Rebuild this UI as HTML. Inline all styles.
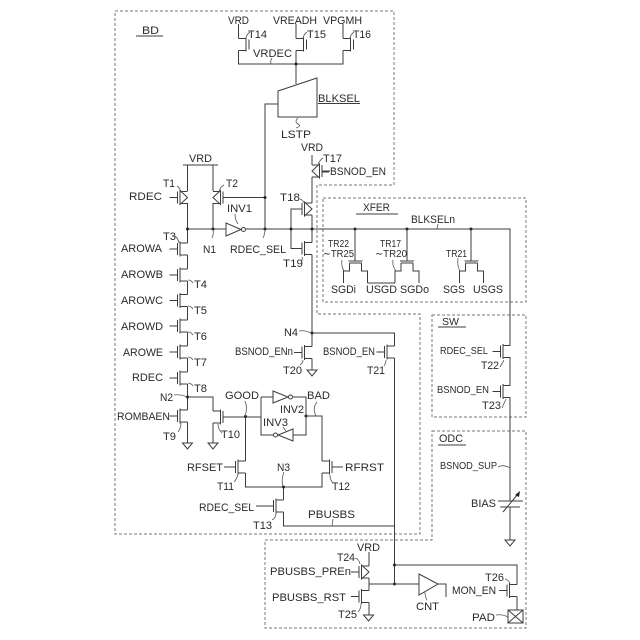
<!DOCTYPE html>
<html><head><meta charset="utf-8"><style>
html,body{margin:0;padding:0;background:#fff}
svg{display:block}
text{font-family:"Liberation Sans",sans-serif;font-size:11px;fill:#2a2a2a}
.w{fill:none;stroke:#3c3c3c;stroke-width:1}
.d{fill:none;stroke:#777;stroke-width:1;stroke-dasharray:3 2}
.l{fill:none;stroke:#555;stroke-width:.8}
.dot{fill:#222}
</style></head><body>
<svg width="640" height="640" viewBox="0 0 640 640" xmlns="http://www.w3.org/2000/svg">
<defs>
<g id="n" class="w"><path d="M-8,0H0M0,-6V6M2.5,-7.5V7.5M2.5,-6H10M2.5,6H10"/></g>
<g id="p" class="w"><path d="M-8,0H0M0,-6V6M2.5,-6H10M2.5,6H10"/><path d="M2.5,-7V7L10,0Z" fill="#fff"/></g>
<g id="t" class="w"><path d="M7.5,-7V7M10.5,-5V5M7.5,-6H0M7.5,6H0"/></g>
<g id="g" class="w"><path d="M-5,0H5L0,6Z"/></g>
<g id="x" class="w"><path d="M-6,2H6M-7,0H7M-6,2V10H-12V22M6,2V10H12V22"/></g>
</defs>
<rect width="640" height="640" fill="#fff"/>

<!-- dashed boxes -->
<path class="d" d="M115,11H394V185H317V314H420V534H115Z"/>
<path class="d" d="M323,198H526V302H323Z"/>
<path class="d" d="M432,315H526V417H432Z"/>
<path class="d" d="M432,431H526V628H265V540H432Z"/>

<!-- top supply transistors -->
<path class="w" d="M238.5,24V38.5M296,24V38.5M343,24V38.5M238.5,50.5V64H343V50.5M296,50.5V84"/>
<use href="#t" x="238.5" y="44.5"/><use href="#t" x="296" y="44.5"/><use href="#t" x="343" y="44.5"/>
<circle class="dot" cx="296" cy="64" r="1.5"/>
<path class="w" d="M278,91L317,78V117H278ZM278,104H265V229"/>
<path class="l" d="M246,38Q247,34 250,32M303,38Q304,34 307,32M350,38Q351,34 354,32M272,58Q270,61 271,64M298,118Q294,122 298,124T296,128"/>
<text x="228" y="24" textLength="21" lengthAdjust="spacingAndGlyphs">VRD</text>
<text x="273" y="24" textLength="44" lengthAdjust="spacingAndGlyphs">VREADH</text>
<text x="323" y="24" textLength="39" lengthAdjust="spacingAndGlyphs">VPGMH</text>
<text x="248" y="38" textLength="19" lengthAdjust="spacingAndGlyphs">T14</text>
<text x="307" y="38" textLength="19" lengthAdjust="spacingAndGlyphs">T15</text>
<text x="353" y="38" textLength="18" lengthAdjust="spacingAndGlyphs">T16</text>
<text x="253" y="57" textLength="39" lengthAdjust="spacingAndGlyphs">VRDEC</text>
<text x="318" y="102" textLength="42" lengthAdjust="spacingAndGlyphs">BLKSEL</text>
<path class="w" d="M318,103.5H360"/>
<text x="281" y="138" textLength="30" lengthAdjust="spacingAndGlyphs">LSTP</text>
<text x="142" y="34" textLength="17" lengthAdjust="spacingAndGlyphs">BD</text>
<path class="w" d="M136,36H163"/>

<!-- T17 / T18 / T19 -->
<path class="w" d="M312,155V165M312,177V203M312,215V242.5M312,254.5V346.5M312,358.5V370"/>
<use href="#p" transform="translate(322,171) scale(-1,1)"/>
<path class="w" d="M322,172H329"/>
<text x="301" y="151" textLength="22" lengthAdjust="spacingAndGlyphs">VRD</text>
<text x="323" y="162" textLength="19" lengthAdjust="spacingAndGlyphs">T17</text>
<path class="l" d="M318,164Q320,160 323,158"/>
<text x="330" y="175" textLength="56" lengthAdjust="spacingAndGlyphs">BSNOD_EN</text>
<use href="#p" x="302" y="209"/>
<use href="#n" x="302" y="248.5"/>
<path class="w" d="M302,209H291V248.5H302"/>
<text x="280" y="201" textLength="20" lengthAdjust="spacingAndGlyphs">T18</text>
<path class="l" d="M300,199Q303,200 304,203"/>
<text x="283" y="267" textLength="20" lengthAdjust="spacingAndGlyphs">T19</text>
<path class="l" d="M302,257Q303,260 301,262"/>

<!-- T1, T2, VRD -->
<path class="w" d="M183,165H218M187.5,165V191M187.5,203V243M213,165V191M213,203V229"/>
<use href="#p" x="177.5" y="197.5"/>
<use href="#p" transform="translate(223,197.5) scale(-1,1)"/>
<path class="w" d="M223,197.5H265"/>
<text x="189" y="162" textLength="23" lengthAdjust="spacingAndGlyphs">VRD</text>
<text x="163" y="187" textLength="12" lengthAdjust="spacingAndGlyphs">T1</text>
<text x="226" y="187" textLength="12" lengthAdjust="spacingAndGlyphs">T2</text>
<path class="l" d="M177,186Q180,188 181,192M224,185Q220,187 219,192"/>
<text x="129" y="200" textLength="33" lengthAdjust="spacingAndGlyphs">RDEC</text>

<!-- main horizontal -->
<path class="w" d="M187.5,229H226M246,229H510V345.5M510,357.5V385.5M510,397.5V501M510,507V540"/>
<path class="w" d="M226,223V236L241,229.5Z"/>
<circle class="w" cx="243.5" cy="229.5" r="2"/>
<g class="dot"><circle cx="187.5" cy="229" r="1.5"/><circle cx="213" cy="229" r="1.5"/><circle cx="265" cy="229" r="1.5"/><circle cx="265" cy="197.5" r="1.5"/><circle cx="291" cy="229" r="1.5"/><circle cx="312" cy="229" r="1.5"/><circle cx="355" cy="229" r="1.5"/><circle cx="407" cy="229" r="1.5"/><circle cx="471" cy="229" r="1.5"/></g>
<path class="l" d="M213,229Q214,234 212,238M265,229Q265,234 263,238M235,214Q235,220 238,224M438,224L437,229"/>
<text x="227" y="212" textLength="25" lengthAdjust="spacingAndGlyphs">INV1</text>
<text x="203" y="253" textLength="13" lengthAdjust="spacingAndGlyphs">N1</text>
<text x="230" y="253" textLength="56" lengthAdjust="spacingAndGlyphs">RDEC_SEL</text>
<text x="411" y="223" textLength="44" lengthAdjust="spacingAndGlyphs">BLKSELn</text>

<!-- T3 - T8 stack -->
<path class="w" d="M187.5,255V269M187.5,281V294.5M187.5,306.5V320M187.5,332V346M187.5,358V372M187.5,384V410"/>
<use href="#n" x="177.5" y="249"/><use href="#n" x="177.5" y="275"/><use href="#n" x="177.5" y="300.5"/><use href="#n" x="177.5" y="326"/><use href="#n" x="177.5" y="352"/><use href="#n" x="177.5" y="378"/>
<text x="163" y="240" textLength="13" lengthAdjust="spacingAndGlyphs">T3</text>
<path class="l" d="M175,236Q178,238 179,243"/>
<text x="121" y="252" textLength="41" lengthAdjust="spacingAndGlyphs">AROWA</text>
<text x="121" y="278" textLength="42" lengthAdjust="spacingAndGlyphs">AROWB</text>
<text x="121" y="304" textLength="42" lengthAdjust="spacingAndGlyphs">AROWC</text>
<text x="121" y="330" textLength="42" lengthAdjust="spacingAndGlyphs">AROWD</text>
<text x="123" y="356" textLength="40" lengthAdjust="spacingAndGlyphs">AROWE</text>
<text x="132" y="381" textLength="31" lengthAdjust="spacingAndGlyphs">RDEC</text>
<text x="194" y="288" textLength="13" lengthAdjust="spacingAndGlyphs">T4</text>
<text x="194" y="314" textLength="13" lengthAdjust="spacingAndGlyphs">T5</text>
<text x="194" y="340" textLength="13" lengthAdjust="spacingAndGlyphs">T6</text>
<text x="194" y="366" textLength="13" lengthAdjust="spacingAndGlyphs">T7</text>
<text x="194" y="392" textLength="13" lengthAdjust="spacingAndGlyphs">T8</text>
<path class="l" d="M188,280Q191,280 193,283M188,306Q191,306 193,309M188,332Q191,332 193,335M188,357Q191,357 193,360M188,383Q191,383 193,386"/>

<!-- N2, T9, T10 -->
<circle class="dot" cx="187.5" cy="397" r="1.5"/>
<path class="w" d="M187.5,397H213V411M213,423V443M187.5,422V443"/>
<text x="160" y="401" textLength="13" lengthAdjust="spacingAndGlyphs">N2</text>
<path class="l" d="M174,395Q180,394 187,397"/>
<use href="#n" x="177.5" y="416"/>
<text x="117" y="420" textLength="53" lengthAdjust="spacingAndGlyphs">ROMBAEN</text>
<text x="163" y="440" textLength="13" lengthAdjust="spacingAndGlyphs">T9</text>
<path class="l" d="M181,423Q181,428 178,432"/>
<use href="#g" x="187.5" y="443"/><use href="#g" x="213" y="443"/>
<use href="#n" transform="translate(223,417) scale(-1,1)"/>
<path class="w" d="M223,417H261"/>
<text x="221" y="438" textLength="19" lengthAdjust="spacingAndGlyphs">T10</text>
<path class="l" d="M218,424Q218,429 222,433"/>

<!-- latch -->
<circle class="dot" cx="245.5" cy="416.5" r="1.5"/><circle class="dot" cx="306" cy="416" r="1.5"/>
<path class="w" d="M261,397V435H274M261,397H273M293,397H306V435H293M306,416H322V461M245.5,417V461"/>
<path class="w" d="M273,391V403L288,397Z"/><circle class="w" cx="290.5" cy="397" r="2"/>
<path class="w" d="M293,429V441L278,435Z"/><circle class="w" cx="275.5" cy="435" r="2"/>
<path class="l" d="M245,401Q248,408 245,416M317,402Q312,408 316,416M283,427L286,431"/>
<text x="225" y="399" textLength="34" lengthAdjust="spacingAndGlyphs">GOOD</text>
<text x="307" y="399" textLength="23" lengthAdjust="spacingAndGlyphs">BAD</text>
<text x="280" y="413" textLength="24" lengthAdjust="spacingAndGlyphs">INV2</text>
<text x="263" y="426" textLength="25" lengthAdjust="spacingAndGlyphs">INV3</text>

<!-- T11 T12 T13 -->
<use href="#n" x="235.5" y="467"/>
<use href="#n" transform="translate(332,467) scale(-1,1)"/>
<path class="w" d="M224,467H236M332,467H343M245.5,473V487H322V473M283.5,487V500M283.5,512V526H395"/>
<circle class="dot" cx="283.5" cy="487" r="1.5"/>
<text x="187" y="471" textLength="36" lengthAdjust="spacingAndGlyphs">RFSET</text>
<text x="345" y="471" textLength="39" lengthAdjust="spacingAndGlyphs">RFRST</text>
<text x="277" y="471" textLength="13" lengthAdjust="spacingAndGlyphs">N3</text>
<text x="217" y="490" textLength="17" lengthAdjust="spacingAndGlyphs">T11</text>
<text x="332" y="490" textLength="18" lengthAdjust="spacingAndGlyphs">T12</text>
<path class="l" d="M234,482Q237,479 238,474M330,475Q330,480 333,483M284,472Q281,480 283,487"/>
<use href="#n" x="273.5" y="506"/>
<path class="w" d="M256,506H273"/>
<text x="199" y="511" textLength="55" lengthAdjust="spacingAndGlyphs">RDEC_SEL</text>
<text x="253" y="529" textLength="19" lengthAdjust="spacingAndGlyphs">T13</text>
<path class="l" d="M276,513Q276,518 272,520M333,519L332,526"/>
<text x="308" y="518" textLength="47" lengthAdjust="spacingAndGlyphs">PBUSBS</text>

<!-- N4, T20, T21 -->
<circle class="dot" cx="312" cy="333" r="1.5"/>
<path class="w" d="M312,333H394.5V346M394.5,358V584" stroke-width="1.2"/>
<text x="284" y="336" textLength="14" lengthAdjust="spacingAndGlyphs">N4</text>
<path class="l" d="M299,331Q305,330 311,333"/>
<use href="#n" x="302" y="352.5"/>
<use href="#g" x="312" y="370"/>
<text x="235" y="355" textLength="58" lengthAdjust="spacingAndGlyphs">BSNOD_ENn</text>
<text x="283" y="374" textLength="19" lengthAdjust="spacingAndGlyphs">T20</text>
<path class="l" d="M303,360Q303,363 300,365"/>
<use href="#n" x="384.5" y="352"/>
<text x="323" y="355" textLength="52" lengthAdjust="spacingAndGlyphs">BSNOD_EN</text>
<text x="367" y="374" textLength="18" lengthAdjust="spacingAndGlyphs">T21</text>
<path class="l" d="M386,360Q386,363 384,366"/>

<!-- XFER -->
<text x="363" y="211" textLength="27" lengthAdjust="spacingAndGlyphs">XFER</text>
<path class="w" d="M356,214H398"/>
<path class="w" d="M355,229V261M407,229V261M471,229V261"/>
<use href="#x" x="355.5" y="261"/><use href="#x" x="407" y="261"/><use href="#x" x="471.5" y="261"/>
<path class="w" d="M367.5,283H395"/>
<path class="l" d="M342,260Q341,266 344,271M393,260Q392,266 396,271M458,258Q457,266 460,271"/>
<text x="328" y="247" style="font-size:10px" textLength="21" lengthAdjust="spacingAndGlyphs">TR22</text>
<text x="323" y="257" style="font-size:10px" textLength="31" lengthAdjust="spacingAndGlyphs">∼TR25</text>
<text x="380" y="247" style="font-size:10px" textLength="21" lengthAdjust="spacingAndGlyphs">TR17</text>
<text x="375" y="257" style="font-size:10px" textLength="32" lengthAdjust="spacingAndGlyphs">∼TR20</text>
<text x="446" y="257" style="font-size:10px" textLength="21" lengthAdjust="spacingAndGlyphs">TR21</text>
<text x="331" y="293" textLength="25" lengthAdjust="spacingAndGlyphs">SGDi</text>
<text x="366" y="293" textLength="31" lengthAdjust="spacingAndGlyphs">USGD</text>
<text x="400" y="293" textLength="29" lengthAdjust="spacingAndGlyphs">SGDo</text>
<text x="443" y="293" textLength="22" lengthAdjust="spacingAndGlyphs">SGS</text>
<text x="473" y="293" textLength="30" lengthAdjust="spacingAndGlyphs">USGS</text>

<!-- SW -->
<text x="442" y="325" style="font-size:10px" textLength="17" lengthAdjust="spacingAndGlyphs">SW</text>
<path class="w" d="M438,327H466"/>
<use href="#n" x="500.5" y="351.5"/>
<use href="#n" x="500.5" y="391.5"/>
<text x="440" y="354" style="font-size:10px" textLength="48" lengthAdjust="spacingAndGlyphs">RDEC_SEL</text>
<text x="437" y="393" style="font-size:10px" textLength="52" lengthAdjust="spacingAndGlyphs">BSNOD_EN</text>
<text x="481" y="369" textLength="18" lengthAdjust="spacingAndGlyphs">T22</text>
<text x="482" y="409" textLength="19" lengthAdjust="spacingAndGlyphs">T23</text>
<path class="l" d="M500,367L504,360M502,408L506,399"/>

<!-- ODC -->
<text x="439" y="442" textLength="24" lengthAdjust="spacingAndGlyphs">ODC</text>
<path class="w" d="M438,445H466"/>
<text x="440" y="469" style="font-size:10px" textLength="57" lengthAdjust="spacingAndGlyphs">BSNOD_SUP</text>
<path class="l" d="M498,467Q503,464 510,468"/>
<text x="471" y="507" textLength="25" lengthAdjust="spacingAndGlyphs">BIAS</text>
<path class="w" d="M498,501H523M500,507H520M503,512L518,494"/>
<path d="M520,491L515,495L519,497Z" fill="#222"/>
<use href="#g" x="510" y="540"/>

<!-- bottom -->
<circle class="dot" cx="394.5" cy="565" r="1.5"/><circle class="dot" cx="394.5" cy="584" r="1.5"/>
<path class="w" d="M394.5,565H517V584.5M369,552V566M369,578V590.5M369,584H419M369,602.5V615"/>
<use href="#p" x="359" y="572"/>
<use href="#n" x="359" y="596.5"/>
<use href="#g" x="368.5" y="615"/>
<text x="357" y="551" textLength="23" lengthAdjust="spacingAndGlyphs">VRD</text>
<text x="337" y="561" textLength="18" lengthAdjust="spacingAndGlyphs">T24</text>
<path class="l" d="M355,558Q359,559 360,564"/>
<text x="270" y="575" textLength="81" lengthAdjust="spacingAndGlyphs">PBUSBS_PREn</text>
<text x="272" y="601" textLength="74" lengthAdjust="spacingAndGlyphs">PBUSBS_RST</text>
<text x="338" y="618" textLength="19" lengthAdjust="spacingAndGlyphs">T25</text>
<path class="l" d="M358,612Q361,609 361,604"/>
<path class="w" d="M419,574V595L438,584ZM438,584H446V597"/>
<path class="l" d="M425,592Q425,597 427,600"/>
<text x="416" y="610" textLength="23" lengthAdjust="spacingAndGlyphs">CNT</text>
<use href="#n" x="507" y="590.5"/>
<path class="w" d="M517,596.5V610"/>
<text x="452" y="594" textLength="44" lengthAdjust="spacingAndGlyphs">MON_EN</text>
<text x="485" y="581" textLength="19" lengthAdjust="spacingAndGlyphs">T26</text>
<path class="l" d="M505,579Q509,580 510,584"/>
<path class="w" d="M508,610H523V623H508ZM508,610L523,623M523,610L508,623"/>
<text x="472" y="621" textLength="23" lengthAdjust="spacingAndGlyphs">PAD</text>
<path class="l" d="M496,615Q502,614 508,617"/>
</svg>
</body></html>
